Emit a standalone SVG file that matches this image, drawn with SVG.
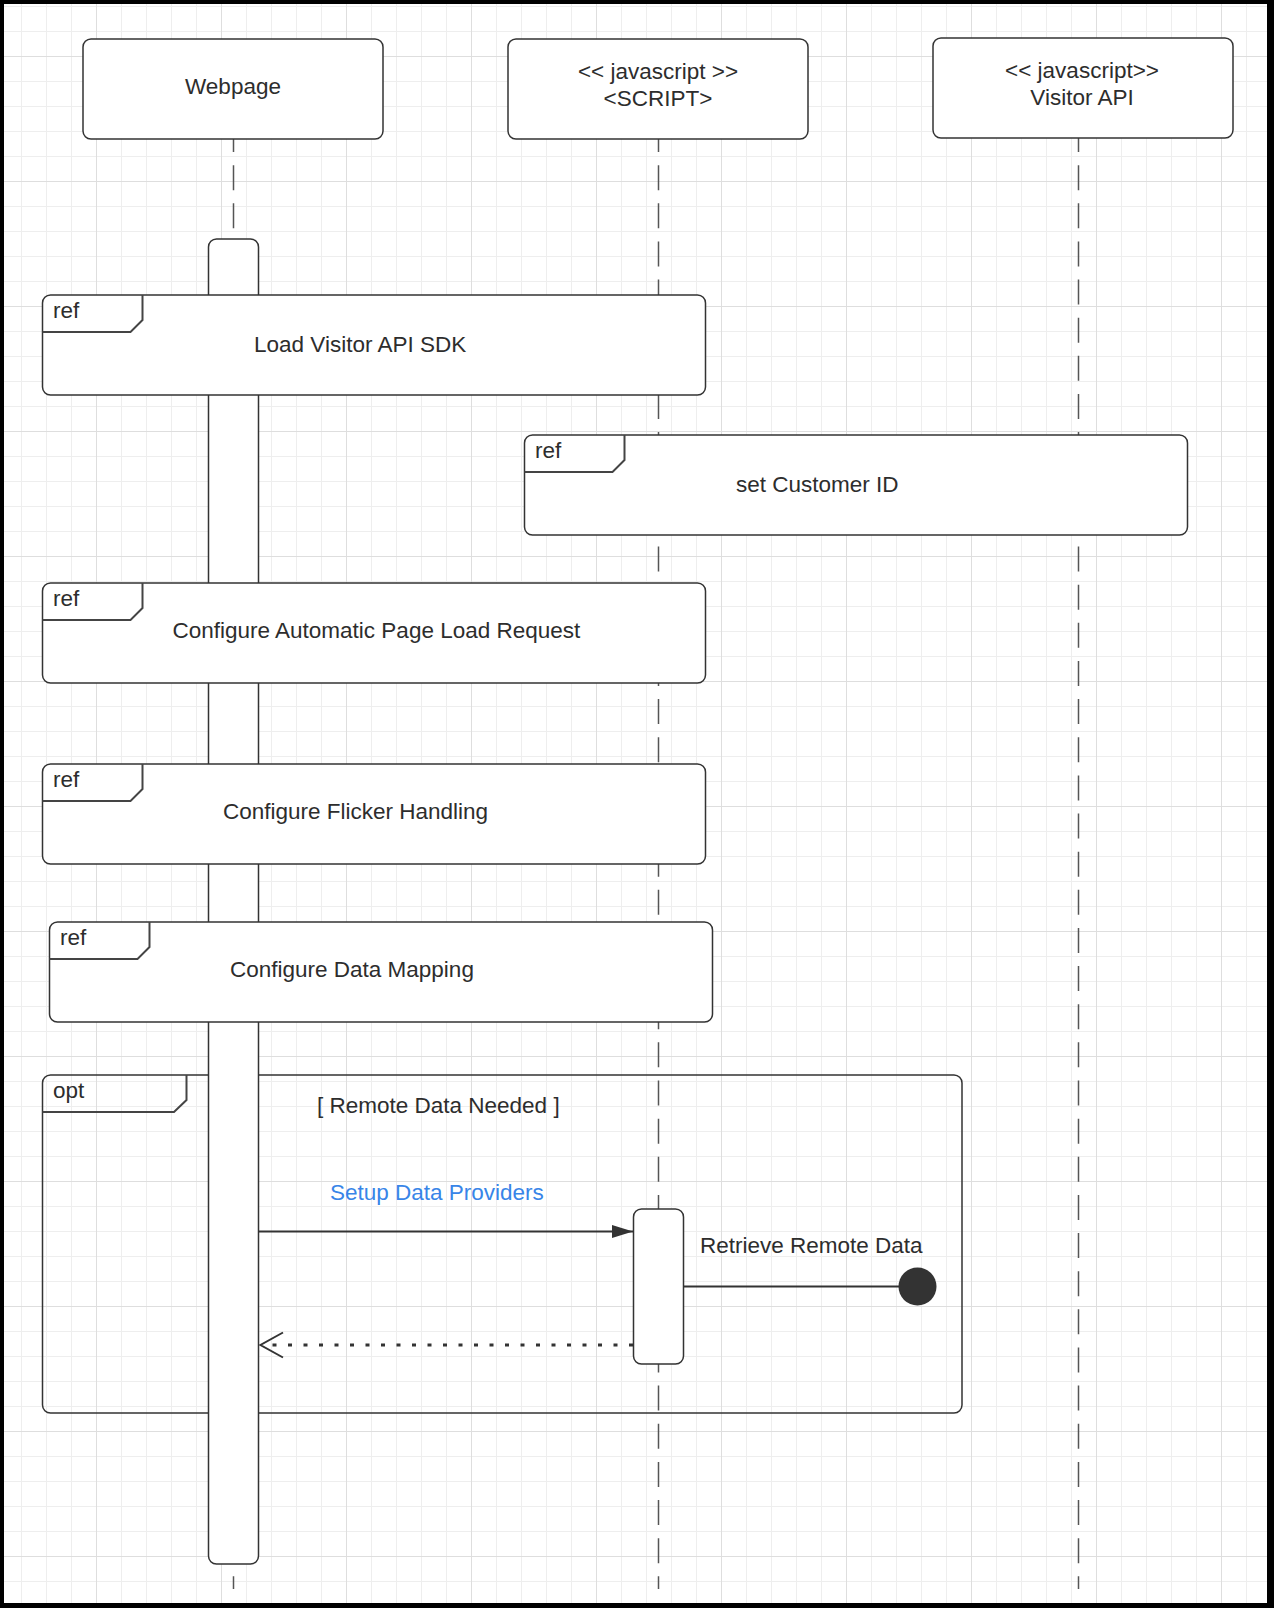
<svg xmlns="http://www.w3.org/2000/svg" width="1274" height="1608" viewBox="0 0 1274 1608">
<defs>
<pattern id="gMinor" width="25" height="25" patternUnits="userSpaceOnUse" x="21" y="6">
<path d="M0.5 0V25M0 0.5H25" fill="none" stroke="#eeeeee" stroke-width="1"/>
</pattern>
<pattern id="gMajor" width="125" height="125" patternUnits="userSpaceOnUse" x="96" y="56">
<path d="M0.5 0V125M0 0.5H125" fill="none" stroke="#dedede" stroke-width="1"/>
</pattern>
<marker id="arrFill" markerWidth="22" markerHeight="14" refX="21" refY="6.5" orient="auto" markerUnits="userSpaceOnUse">
<path d="M0 0L21 6.5L0 13Z" fill="#333"/>
</marker>
</defs>
<style>
text{font-family:"Liberation Sans",Arial,sans-serif;font-size:22.5px;fill:#2d2d2d}
.box{fill:#fff;stroke:#333;stroke-width:1.5}
.tab{fill:none;stroke:#444;stroke-width:2}
.life{stroke:#555;stroke-width:1.5;stroke-dasharray:25 13.14;fill:none}
.msg{stroke:#333;stroke-width:2;fill:none}
.c{text-anchor:middle}
</style>
<rect x="0" y="0" width="1274" height="1608" fill="#000"/>
<rect x="4" y="4" width="1263" height="1599" fill="#fff"/>
<rect x="4" y="4" width="1263" height="1599" fill="url(#gMinor)"/>
<rect x="4" y="4" width="1263" height="1599" fill="url(#gMajor)"/>

<g id="lifelines">
<line class="life" x1="233.5" y1="127" x2="233.5" y2="1589"/>
<line class="life" x1="658.5" y1="127" x2="658.5" y2="1589"/>
<line class="life" x1="1078.5" y1="127" x2="1078.5" y2="1589"/>
</g>

<g id="webpage">
<rect class="box" x="83" y="39" width="300" height="100" rx="8"/>
<text class="c" x="233" y="94">Webpage</text>
</g>
<g id="script">
<rect class="box" x="508" y="39" width="300" height="100" rx="8"/>
<text class="c" x="658" y="79">&lt;&lt; javascript &gt;&gt;</text>
<text class="c" x="658" y="106">&lt;SCRIPT&gt;</text>
</g>
<g id="visitor-api">
<rect class="box" x="933" y="38" width="300" height="100" rx="8"/>
<text class="c" x="1082" y="78">&lt;&lt; javascript&gt;&gt;</text>
<text class="c" x="1082" y="105">Visitor API</text>
</g>

<g id="opt-frame">
<rect x="42.5" y="1075" width="919.5" height="338" rx="8" fill="none" stroke="#333" stroke-width="1.5"/>
<path class="tab" d="M42.5 1112H174L186.5 1100V1075"/>
<text x="53" y="1098">opt</text>
<text x="317" y="1113">[ Remote Data Needed ]</text>
</g>

<g id="webpage-activation">
<rect class="box" x="208.5" y="239" width="50" height="1325" rx="8"/>
</g>

<g id="ref-load-sdk">
<rect class="box" x="42.5" y="295" width="663" height="100" rx="8"/>
<path class="tab" d="M42.5 332H130.5L142.5 320V295"/>
<text x="53" y="318">ref</text>
<text x="254" y="352">Load Visitor API SDK</text>
</g>
<g id="ref-customer-id">
<rect class="box" x="524.5" y="435" width="663" height="100" rx="8"/>
<path class="tab" d="M524.5 472H612.5L624.5 460V435"/>
<text x="535" y="458">ref</text>
<text x="736" y="492">set Customer ID</text>
</g>
<g id="ref-page-load">
<rect class="box" x="42.5" y="583" width="663" height="100" rx="8"/>
<path class="tab" d="M42.5 620H130.5L142.5 608V583"/>
<text x="53" y="606">ref</text>
<text x="172.5" y="638">Configure Automatic Page Load Request</text>
</g>
<g id="ref-flicker">
<rect class="box" x="42.5" y="764" width="663" height="100" rx="8"/>
<path class="tab" d="M42.5 801H130.5L142.5 789V764"/>
<text x="53" y="787">ref</text>
<text x="223" y="819">Configure Flicker Handling</text>
</g>
<g id="ref-data-mapping">
<rect class="box" x="49.5" y="922" width="663" height="100" rx="8"/>
<path class="tab" d="M49.5 959H137.5L149.5 947V922"/>
<text x="60" y="945">ref</text>
<text x="230" y="977">Configure Data Mapping</text>
</g>

<g id="script-activation">
<rect class="box" x="633.5" y="1209" width="50" height="155" rx="8"/>
</g>

<g id="connectors">
<line class="msg" x1="258.5" y1="1231.5" x2="633" y2="1231.5" marker-end="url(#arrFill)"/>
<text x="330" y="1200" style="fill:#3885e8">Setup Data Providers</text>
<line class="msg" x1="683.5" y1="1286.5" x2="900" y2="1286.5"/>
<circle cx="917.5" cy="1286.5" r="19" fill="#333"/>
<text x="700" y="1253">Retrieve Remote Data</text>
<line x1="633" y1="1345" x2="262" y2="1345" stroke="#333" stroke-width="3" stroke-dasharray="4 11.5"/>
<path d="M283 1332.5L260.5 1345L283 1357.5" fill="none" stroke="#333" stroke-width="2"/>
</g>
</svg>
